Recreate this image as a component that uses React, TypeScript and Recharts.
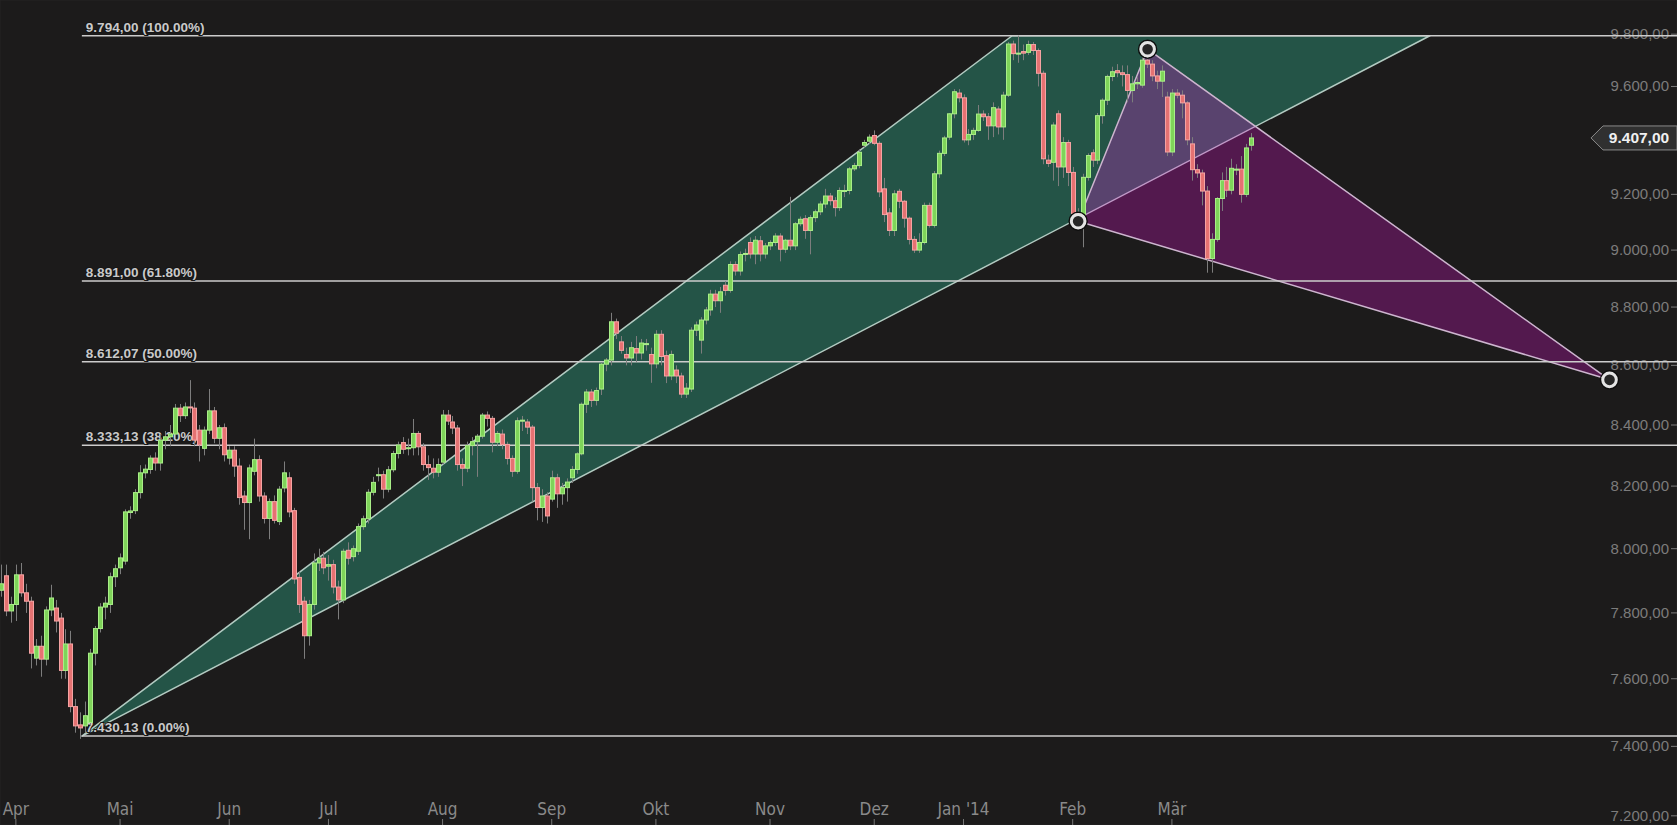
import { Bar, CartesianGrid, ComposedChart, ReferenceLine, Scatter, XAxis, YAxis } from 'recharts'

const WIDTH = 1677
const HEIGHT = 825
const BG = '#1c1b1b'

// one slot per trading day, slot 0 = 26.03.2013
const monthTickIdx = [3, 24, 46, 66, 89, 111, 132, 155, 176, 194, 216, 236]
const monthNames = ['Apr', 'Mai', 'Jun', 'Jul', 'Aug', 'Sep', 'Okt', 'Nov', 'Dez', "Jan '14", 'Feb', 'Mär']
const priceTicks = [7200, 7400, 7600, 7800, 8000, 8200, 8400, 8600, 8800, 9000, 9200, 9400, 9600, 9800]
// 9.400 sits under the last-price tag, so it gets no label
const labelledTicks = [7200, 7400, 7600, 7800, 8000, 8200, 8400, 8600, 8800, 9000, 9200, 9600, 9800]

const fibValues = [9794, 8891, 8612.07, 8333.13, 7430.13]
const fibPcts = ['100.00%', '61.80%', '50.00%', '38.20%', '0.00%']
const lastClose = 9407

// drawing anchors (slot, price)
const greenTriangle = [
  { i: 16.3, y: 7430.13 },
  { i: 203.8, y: 9794 },
  { i: 288, y: 9794 },
]
const purpleTriangle = [
  { i: 217.1, y: 9103 },
  { i: 231.1, y: 9742 },
  { i: 324.2, y: 8551 },
]

// [open, high, low, close]
const ohlc: number[][] = [
  [7870, 7950, 7850, 7890], [7915, 7950, 7790, 7806], [7806, 7850, 7770, 7826], [7826, 7950, 7775, 7918],
  [7918, 7955, 7850, 7862], [7862, 7890, 7800, 7836], [7836, 7850, 7631, 7677], [7662, 7720, 7640, 7698],
  [7698, 7730, 7606, 7659], [7659, 7820, 7640, 7809], [7809, 7887, 7790, 7846], [7815, 7840, 7740, 7775],
  [7784, 7800, 7600, 7625], [7625, 7750, 7600, 7705], [7705, 7745, 7500, 7517], [7517, 7540, 7440, 7460],
  [7463, 7500, 7422, 7454], [7460, 7532, 7440, 7490], [7470, 7690, 7460, 7677], [7677, 7760, 7640, 7752],
  [7752, 7830, 7740, 7818], [7818, 7850, 7780, 7830], [7826, 7925, 7800, 7912], [7912, 7950, 7880, 7937],
  [7940, 7985, 7920, 7971], [7961, 8125, 7950, 8117], [8115, 8135, 8095, 8120], [8121, 8190, 8110, 8179],
  [8179, 8268, 8160, 8243], [8243, 8270, 8225, 8255], [8254, 8300, 8240, 8291], [8291, 8310, 8250, 8275],
  [8275, 8370, 8250, 8350], [8350, 8380, 8320, 8361], [8361, 8400, 8330, 8370], [8370, 8470, 8355, 8456],
  [8456, 8470, 8410, 8431], [8431, 8475, 8420, 8460], [8460, 8550, 8440, 8458], [8456, 8475, 8330, 8350],
  [8383, 8400, 8280, 8334], [8323, 8395, 8300, 8383], [8383, 8520, 8370, 8447], [8447, 8460, 8340, 8356],
  [8356, 8400, 8320, 8391], [8391, 8405, 8280, 8302], [8291, 8330, 8270, 8317], [8317, 8330, 8230, 8265],
  [8265, 8290, 8140, 8163], [8168, 8185, 8060, 8147], [8147, 8270, 8030, 8259], [8248, 8355, 8235, 8286],
  [8286, 8300, 8150, 8168], [8168, 8180, 8080, 8096], [8096, 8160, 8030, 8150], [8150, 8170, 8080, 8090],
  [8086, 8200, 8075, 8190], [8194, 8280, 8180, 8243], [8227, 8245, 8100, 8117], [8121, 8130, 7890, 7905],
  [7910, 7930, 7800, 7826], [7836, 7850, 7660, 7730], [7730, 7840, 7700, 7826], [7826, 7985, 7810, 7955],
  [7955, 8000, 7930, 7970], [7970, 7990, 7920, 7940], [7945, 7980, 7900, 7950], [7950, 7965, 7860, 7880],
  [7880, 7900, 7780, 7840], [7840, 8000, 7830, 7992], [7995, 8020, 7950, 7970], [7975, 8010, 7960, 8000],
  [7992, 8080, 7980, 8070], [8070, 8105, 8060, 8095], [8095, 8190, 8080, 8180], [8180, 8230, 8170, 8212],
  [8235, 8260, 8215, 8237], [8237, 8250, 8160, 8190], [8190, 8265, 8180, 8253], [8253, 8315, 8245, 8306],
  [8306, 8345, 8290, 8334], [8342, 8360, 8305, 8320], [8322, 8355, 8300, 8325], [8325, 8420, 8300, 8372],
  [8372, 8380, 8300, 8328], [8328, 8340, 8250, 8270], [8270, 8300, 8220, 8260], [8258, 8290, 8225, 8245],
  [8245, 8290, 8230, 8270], [8278, 8450, 8270, 8433], [8433, 8450, 8400, 8413], [8410, 8430, 8370, 8390],
  [8390, 8400, 8250, 8270], [8270, 8290, 8200, 8258], [8258, 8345, 8245, 8332], [8332, 8360, 8300, 8345],
  [8345, 8370, 8230, 8363], [8363, 8440, 8355, 8433], [8433, 8445, 8395, 8422], [8422, 8430, 8310, 8343],
  [8343, 8380, 8330, 8372], [8370, 8385, 8320, 8336], [8336, 8345, 8270, 8290], [8290, 8300, 8230, 8248],
  [8248, 8425, 8240, 8414], [8414, 8430, 8380, 8416], [8410, 8420, 8370, 8393], [8393, 8400, 8150, 8195],
  [8195, 8210, 8090, 8131], [8131, 8190, 8085, 8168], [8168, 8180, 8080, 8104], [8158, 8250, 8150, 8227],
  [8227, 8240, 8130, 8175], [8175, 8210, 8140, 8195], [8195, 8225, 8150, 8213], [8227, 8265, 8210, 8254],
  [8254, 8310, 8240, 8305], [8305, 8475, 8300, 8469], [8469, 8520, 8440, 8510], [8510, 8520, 8460, 8482],
  [8482, 8525, 8465, 8515], [8520, 8610, 8500, 8604], [8604, 8625, 8580, 8618], [8618, 8780, 8600, 8749],
  [8749, 8760, 8690, 8710], [8680, 8700, 8640, 8651], [8637, 8660, 8600, 8625], [8625, 8680, 8600, 8660],
  [8657, 8700, 8610, 8642], [8642, 8690, 8620, 8676], [8674, 8690, 8650, 8674], [8637, 8660, 8541, 8605],
  [8605, 8720, 8590, 8706], [8706, 8720, 8600, 8630], [8633, 8650, 8540, 8564], [8564, 8650, 8550, 8637],
  [8584, 8600, 8540, 8564], [8564, 8575, 8490, 8503], [8503, 8540, 8490, 8523], [8520, 8730, 8510, 8720],
  [8720, 8750, 8700, 8738], [8686, 8765, 8640, 8755], [8755, 8800, 8740, 8790], [8790, 8860, 8770, 8845],
  [8845, 8860, 8800, 8822], [8822, 8870, 8780, 8853], [8876, 8890, 8840, 8858], [8858, 8960, 8850, 8949],
  [8949, 8960, 8910, 8926], [8926, 8995, 8910, 8984], [8988, 9005, 8960, 8988], [9027, 9045, 8970, 8986],
  [8986, 9050, 8950, 9035], [9033, 9050, 8960, 8986], [8986, 9025, 8970, 9015], [9015, 9035, 9000, 9027],
  [9027, 9060, 9015, 9050], [9050, 9060, 8960, 9003], [9003, 9040, 8990, 9035], [9035, 9191, 9000, 9015],
  [9015, 9100, 9000, 9094], [9094, 9120, 9085, 9110], [9112, 9125, 9040, 9070], [9070, 9125, 8985, 9116],
  [9116, 9145, 9100, 9137], [9137, 9175, 9125, 9165], [9165, 9220, 9150, 9194], [9194, 9205, 9160, 9177],
  [9177, 9190, 9120, 9152], [9152, 9225, 9140, 9214], [9214, 9235, 9190, 9214], [9214, 9300, 9200, 9293],
  [9293, 9315, 9285, 9305], [9305, 9365, 9295, 9354], [9380, 9400, 9370, 9390], [9395, 9420, 9385, 9410],
  [9416, 9435, 9380, 9387], [9387, 9395, 9190, 9209], [9220, 9260, 9100, 9127], [9133, 9150, 9050, 9070],
  [9070, 9215, 9050, 9202], [9211, 9220, 9150, 9175], [9175, 9180, 9080, 9114], [9114, 9120, 9020, 9038],
  [9038, 9050, 8990, 9000], [9000, 9060, 8990, 9027], [9027, 9170, 9020, 9160], [9160, 9170, 9080, 9088],
  [9088, 9285, 9080, 9275], [9275, 9360, 9260, 9350], [9350, 9415, 9340, 9407], [9410, 9500, 9400, 9497],
  [9497, 9590, 9480, 9580], [9575, 9590, 9540, 9557], [9557, 9570, 9390, 9400], [9400, 9440, 9380, 9420],
  [9420, 9445, 9400, 9435], [9435, 9530, 9430, 9496], [9496, 9510, 9470, 9486], [9486, 9500, 9400, 9452],
  [9452, 9540, 9410, 9520], [9515, 9525, 9420, 9448], [9448, 9580, 9400, 9567], [9567, 9770, 9560, 9762],
  [9762, 9775, 9700, 9725], [9725, 9794, 9690, 9727], [9733, 9760, 9700, 9727], [9730, 9775, 9720, 9760],
  [9760, 9770, 9720, 9737], [9737, 9745, 9600, 9650], [9650, 9660, 9310, 9330], [9325, 9345, 9300, 9313],
  [9317, 9465, 9250, 9455], [9497, 9510, 9230, 9300], [9300, 9410, 9260, 9390], [9390, 9400, 9230, 9280],
  [9280, 9300, 9100, 9130], [9130, 9150, 9080, 9105], [9120, 9275, 9010, 9262], [9262, 9350, 9250, 9342],
  [9352, 9365, 9300, 9325], [9325, 9500, 9310, 9490], [9490, 9555, 9460, 9548], [9548, 9645, 9530, 9638],
  [9638, 9675, 9620, 9656], [9660, 9685, 9635, 9652], [9652, 9680, 9600, 9645], [9645, 9680, 9540, 9585],
  [9585, 9640, 9540, 9610], [9610, 9635, 9590, 9615], [9605, 9710, 9595, 9700], [9700, 9740, 9670, 9685],
  [9685, 9700, 9620, 9640], [9640, 9660, 9590, 9620], [9620, 9680, 9560, 9658], [9560, 9580, 9340, 9355],
  [9355, 9590, 9340, 9575], [9575, 9590, 9555, 9567], [9567, 9585, 9480, 9538], [9538, 9545, 9380, 9400],
  [9385, 9410, 9250, 9290], [9290, 9310, 9260, 9278], [9278, 9290, 9160, 9212], [9212, 9230, 8920, 8970],
  [8970, 9060, 8920, 9038], [9038, 9190, 9030, 9185], [9185, 9280, 9140, 9250], [9250, 9300, 9190, 9215],
  [9215, 9330, 9200, 9295], [9290, 9310, 9270, 9292], [9292, 9340, 9170, 9200], [9200, 9385, 9190, 9370],
  [9380, 9425, 9360, 9407],
]

const rows = ohlc.map(([o, h, l, c], i) => ({ i, o, h, l, c }))

const fmt = (v: number) => {
  const [int, dec] = v.toFixed(2).split('.')
  return int.replace(/\B(?=(\d{3})+(?!\d))/g, '.') + ',' + dec
}

const SANS = "'Liberation Sans', Arial, sans-serif"
const NARROW = "'Liberation Sans Narrow', 'DejaVu Sans Condensed', 'Arial Narrow', sans-serif"

function Candle(props: any) {
  const { x, y, width, height, payload } = props
  if (!payload || y == null || height == null) return null
  const { o, h, l, c } = payload
  const cx = Math.round(x + width / 2) + 0.5
  const span = Math.log(h) - Math.log(l)
  const py = (v: number) => (span > 0 ? y + ((Math.log(h) - Math.log(v)) / span) * height : y)
  const up = c >= o
  const top = py(Math.max(o, c))
  const bot = py(Math.min(o, c))
  return (
    <g>
      <line x1={cx} x2={cx} y1={y} y2={y + height} stroke="#7d7d7d" strokeWidth={1} />
      <rect
        x={cx - 2}
        y={top}
        width={4}
        height={Math.max(bot - top, 1)}
        fill={up ? '#7fd45a' : '#e57272'}
        stroke={up ? '#a9ee88' : '#f5a3a3'}
        strokeWidth={1}
      />
    </g>
  )
}

function polygon(fill: string, stroke: string) {
  return (p: any) => (
    <polygon
      points={(p.points || []).map((pt: any) => `${pt.x},${pt.y}`).join(' ')}
      fill={fill}
      stroke={stroke}
      strokeWidth={1.5}
      strokeLinejoin="round"
    />
  )
}

function Handle(props: any) {
  const { cx, cy } = props
  if (cx == null || cy == null) return null
  return (
    <g>
      <circle cx={cx} cy={cy} r={9} fill="none" stroke="#0e0e0e" strokeWidth={1.5} />
      <circle cx={cx} cy={cy} r={6.8} fill="#262626" stroke="#e4e4e4" strokeWidth={3} />
    </g>
  )
}

function priceLabel(v: number) {
  return (p: any) => {
    const vb = p.viewBox || {}
    const r = vb.x + vb.width
    return (
      <g>
        <text x={r - 8} y={vb.y} dy={5} textAnchor="end" fill="#7c7c7c" fontSize={15} fontFamily={SANS}>
          {fmt(v)}
        </text>
        <line x1={r - 6} x2={r} y1={vb.y} y2={vb.y} stroke="#7c7c7c" />
      </g>
    )
  }
}

function monthLabel(name: string) {
  return (p: any) => {
    const vb = p.viewBox || {}
    const bottom = vb.y + vb.height
    return (
      <g>
        <text x={vb.x} y={bottom - 10} textAnchor="middle" fill="#8a8a8a" fontSize={17} fontFamily={NARROW}>
          {name}
        </text>
        <line x1={vb.x} x2={vb.x} y1={bottom - 6} y2={bottom} stroke="#777" />
      </g>
    )
  }
}

function fibLabel(text: string) {
  return (p: any) => {
    const vb = p.viewBox || {}
    return (
      <text x={vb.x + 4} y={vb.y - 4} fill="#c9c9c9" fontSize={13.5} fontWeight="bold" fontFamily={SANS}
        stroke="#161616" strokeWidth={2} paintOrder="stroke">
        {text}
      </text>
    )
  }
}

function PriceTag(p: any) {
  const vb = p.viewBox || {}
  const r = vb.x + vb.width
  const y = vb.y
  const pts = [
    [r - 86, y], [r - 74, y - 12], [r, y - 12], [r, y + 12], [r - 74, y + 12],
  ].map((q) => q.join(',')).join(' ')
  return (
    <g>
      <polygon points={pts} fill="#303030" stroke="#8a8a8a" strokeWidth={1} />
      <text x={r - 38} y={y} dy={5.5} textAnchor="middle" fill="#f0f0f0" fontSize={15.5} fontWeight="bold" fontFamily={SANS}>
        {fmt(lastClose)}
      </text>
    </g>
  )
}

export default function App() {
  return (
    <div style={{ position: 'fixed', left: 0, top: 0, width: WIDTH, height: HEIGHT, background: BG }}>
      <ComposedChart width={WIDTH} height={HEIGHT} data={rows} margin={{ top: 0, right: 0, bottom: 0, left: 0 }}>
        <CartesianGrid stroke="#252424" strokeWidth={1} />
        <XAxis
          dataKey="i"
          type="number"
          domain={[-0.2, 337.8]}
          allowDataOverflow
          ticks={monthTickIdx}
          interval={0}
          height={0}
          axisLine={false}
          tickLine={false}
          tick={false}
        />
        <YAxis
          type="number"
          scale="log"
          domain={[7174, 9933]}
          allowDataOverflow
          ticks={priceTicks}
          interval={0}
          orientation="right"
          width={0}
          axisLine={false}
          tickLine={false}
          tick={false}
        />
        <Scatter
          data={greenTriangle}
          dataKey="y"
          isAnimationActive={false}
          shape={() => <g />}
          line={polygon('rgba(55,217,177,0.30)', '#b3cbc2')}
          zIndex={50}
        />
        <Scatter
          data={purpleTriangle}
          dataKey="y"
          isAnimationActive={false}
          shape={() => <g />}
          line={polygon('rgba(232,23,219,0.27)', '#cdb5cf')}
          zIndex={60}
        />
        {labelledTicks.map((v) => (
          <ReferenceLine key={`p${v}`} y={v} stroke="none" label={priceLabel(v)} zIndex={120} />
        ))}
        {monthTickIdx.map((idx, k) => (
          <ReferenceLine key={`m${idx}`} x={idx} stroke="none" label={monthLabel(monthNames[k])} zIndex={120} />
        ))}
        {fibValues.map((v, k) => (
          <ReferenceLine
            key={v}
            segment={[{ x: greenTriangle[0].i, y: v }, { x: 337.8, y: v }]}
            stroke="#cccccc"
            strokeWidth={1.5}
            ifOverflow="visible"
            label={fibLabel(`${fmt(v)} (${fibPcts[k]})`)}
            zIndex={150}
          />
        ))}
        <Bar
          dataKey={(r: any) => [r.l, r.h]}
          barSize={5}
          shape={<Candle />}
          isAnimationActive={false}
          zIndex={300}
        />
        <Scatter
          data={purpleTriangle}
          dataKey="y"
          isAnimationActive={false}
          shape={<Handle />}
          zIndex={700}
        />
        <ReferenceLine y={lastClose} stroke="none" label={PriceTag} zIndex={800} />
      </ComposedChart>
    </div>
  )
}
